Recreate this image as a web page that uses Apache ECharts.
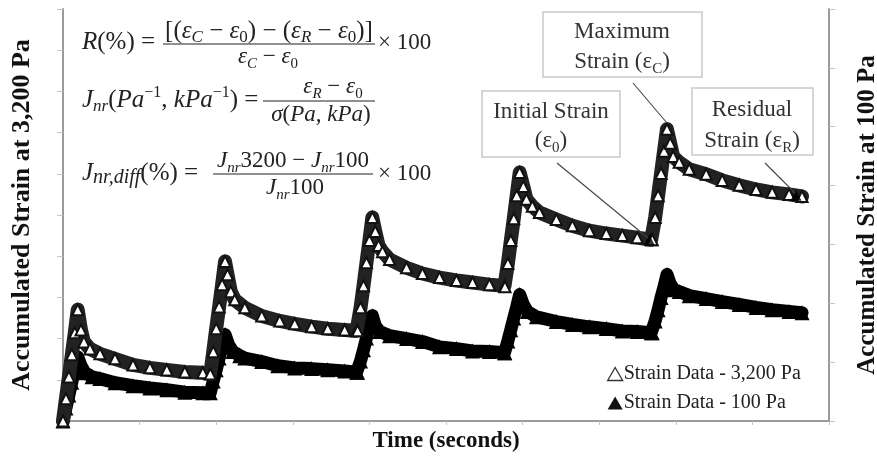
<!DOCTYPE html>
<html>
<head>
<meta charset="utf-8">
<script src="https://cdn.jsdelivr.net/npm/echarts@6/dist/echarts.min.js"></script>
<style>
html,body{margin:0;padding:0;background:#fff;}
#chart{width:877px;height:460px;}
</style>
</head>
<body>
<div id="chart"></div>
<script>
// ---- Data (time in s; strain in arbitrary axis units) ----
const seriesNames = ['Strain Data - 3,200 Pa', 'Strain Data - 100 Pa'];

const strain3200 = [
  [0,0],[0.2,0.54],[0.4,1.07],[0.6,1.61],[0.8,2.14],[1.0,2.70],[1.22,2.21],[1.42,1.92],[1.83,1.75],[2.51,1.63],[3.53,1.51],[4.75,1.36],[5.9,1.29],[7.05,1.24],[8.27,1.19],[9.49,1.17],
  [10,1.14],[10.2,1.68],[10.4,2.24],[10.6,2.77],[10.8,3.31],[11.0,3.87],[11.17,3.55],[11.39,3.14],[11.66,2.94],[12.34,2.75],[13.49,2.55],[14.71,2.43],[15.73,2.36],[16.88,2.29],[17.97,2.24],[19.12,2.21],[19.93,2.19],
  [20,2.19],[20.2,2.75],[20.4,3.28],[20.6,3.84],[20.8,4.38],[21.0,4.94],[21.2,4.60],[21.42,4.26],[21.69,4.11],[22.17,3.92],[23.32,3.72],[24.4,3.58],[25.56,3.48],[26.71,3.41],[27.8,3.36],[28.95,3.31],[29.97,3.28],
  [30,3.26],[30.2,3.82],[30.4,4.38],[30.6,4.91],[30.8,5.47],[31.0,6.03],[31.25,5.69],[31.46,5.38],[31.86,5.21],[32.34,5.06],[33.49,4.89],[34.58,4.74],[35.73,4.62],[36.88,4.55],[37.97,4.50],[38.98,4.45],[39.93,4.40],
  [40,4.40],[40.2,4.94],[40.4,5.47],[40.6,6.01],[40.8,6.55],[41.0,7.08],[41.22,6.74],[41.42,6.42],[41.83,6.28],[42.51,6.11],[43.66,5.99],[44.75,5.84],[45.9,5.72],[47.05,5.62],[48.14,5.55],[49.29,5.50],[50.17,5.45]
];

const strain100 = [
  [0,0],[0.2,0.22],[0.4,0.44],[0.6,0.66],[0.8,0.89],[1.0,1.09],[1.22,0.94],[1.49,0.82],[1.97,0.75],[2.5,0.72],[3.53,0.65],[4.75,0.60],[5.9,0.56],[7.05,0.53],[8.27,0.49],[9.49,0.48],
  [10,0.48],[10.2,0.68],[10.4,0.87],[10.6,1.07],[10.8,1.26],[11.0,1.47],[11.25,1.29],[11.53,1.18],[12.0,1.11],[12.34,1.07],[13.49,1.01],[14.58,0.94],[15.73,0.90],[16.88,0.89],[17.97,0.87],[19.12,0.85],[19.93,0.83],
  [20,0.83],[20.2,1.02],[20.4,1.21],[20.6,1.41],[20.8,1.60],[21.0,1.79],[21.2,1.62],[21.5,1.52],[22.17,1.45],[23.32,1.40],[24.4,1.35],[25.56,1.26],[26.71,1.23],[27.8,1.19],[28.95,1.18],[29.97,1.16],
  [30,1.16],[30.2,1.36],[30.4,1.55],[30.6,1.75],[30.8,1.94],[31.0,2.15],[31.25,1.98],[31.53,1.86],[32.14,1.77],[33.49,1.69],[34.58,1.64],[35.73,1.60],[36.88,1.57],[37.97,1.53],[38.98,1.52],[39.93,1.50],
  [40,1.50],[40.2,1.70],[40.4,1.89],[40.6,2.10],[40.8,2.28],[41.0,2.49],[41.22,2.33],[41.49,2.23],[41.83,2.20],[42.51,2.13],[43.66,2.08],[44.75,2.03],[45.9,1.98],[47.05,1.93],[48.14,1.89],[49.29,1.86],[50.17,1.84]
];

// highlighted points (initial strain, residual strain) on the 3,200 Pa curve
const keyPoints = [[39.8,4.40],[49.76,5.48]];

const axisTitles = {
  x: 'Time (seconds)',
  yLeft: 'Accumulated Strain at 3,200 Pa',
  yRight: 'Accumulated Strain at 100 Pa'
};

// ---- Chart ----
const F = 'Liberation Serif, Times New Roman, serif';
const chart = echarts.init(document.getElementById('chart'), null, {renderer: 'canvas'});

const axisLineStyle = {lineStyle: {color: '#9a9a9a', width: 2}};
const tickStyle = {show: true, inside: false, length: 6, lineStyle: {color: '#c4c4c4', width: 1}};

const C = '#222';
const mrich = {
  i: {fontFamily: F, fontStyle: 'italic', fontSize: 23, lineHeight: 30, fill: C},
  n: {fontFamily: F, fontSize: 23, lineHeight: 30, fill: C},
  I: {fontFamily: F, fontStyle: 'italic', fontSize: 25, lineHeight: 30, fill: C},
  N: {fontFamily: F, fontSize: 25, lineHeight: 30, fill: C},
  sb: {fontFamily: F, fontStyle: 'italic', fontSize: 15, lineHeight: 16, verticalAlign: 'bottom', fill: C},
  SB: {fontFamily: F, fontStyle: 'italic', fontSize: 17, lineHeight: 16, verticalAlign: 'bottom', fill: C},
  SD: {fontFamily: F, fontStyle: 'italic', fontSize: 20, lineHeight: 16, verticalAlign: 'bottom', fill: C},
  sbn: {fontFamily: F, fontSize: 15, lineHeight: 16, verticalAlign: 'bottom', fill: C},
  SBN: {fontFamily: F, fontSize: 17, lineHeight: 16, verticalAlign: 'bottom', fill: C},
  sp: {fontFamily: F, fontSize: 16, lineHeight: 16, verticalAlign: 'top', fill: C}
};
const arich = {
  t: {fontFamily: F, fontSize: 23, lineHeight: 30, fill: '#333'},
  s: {fontFamily: F, fontSize: 15, lineHeight: 16, verticalAlign: 'bottom', fill: '#333'}
};

function mtext(x, y, text, align) {
  return {type: 'text', x: x, y: y, z: 10, style: {text: text, rich: mrich, align: align || 'left', verticalAlign: 'middle'}};
}
function fline(x1, x2, y) {
  return {type: 'line', z: 10, shape: {x1: x1, y1: y, x2: x2, y2: y}, style: {stroke: '#222', lineWidth: 1.2}};
}
function box(x, y, w, h) {
  return {type: 'rect', z: 10, shape: {x: x, y: y, width: w, height: h}, style: {fill: '#fff', stroke: '#c9c9c9', lineWidth: 1.5}};
}
function atext(x, y, text) {
  return {type: 'text', x: x, y: y, z: 11, style: {text: text, rich: arich, align: 'center', verticalAlign: 'middle'}};
}
function leader(x1, y1, x2, y2) {
  return {type: 'line', z: 11, shape: {x1: x1, y1: y1, x2: x2, y2: y2}, style: {stroke: '#444', lineWidth: 1.1}};
}

const graphics = [
  // formula 1
  mtext(82, 42, '{I|R}{N|(%) =}'),
  mtext(269, 31, '{N|[(}{I|ε}{SB|C}{N| − }{I|ε}{SBN|0}{N|) − (}{I|ε}{SB|R}{N| − }{I|ε}{SBN|0}{N|)]}', 'center'),
  fline(163, 375, 44),
  mtext(268, 57, '{i|ε}{sb|C}{n| − }{i|ε}{sbn|0}', 'center'),
  mtext(378, 43, '{n|× 100}'),
  // formula 2
  mtext(82, 100, '{I|J}{SB|nr}{N|(}{I|Pa}{sp|−1}{N|, }{I|kPa}{sp|−1}{N|) =}'),
  mtext(333, 87, '{i|ε}{sb|R}{n| − }{i|ε}{sbn|0}', 'center'),
  fline(263, 375, 101),
  mtext(321, 115, '{i|σ}{n|(}{i|Pa}{n|, }{i|kPa}{n|)}', 'center'),
  // formula 3
  mtext(82, 173, '{I|J}{SD|nr,diff}{N|(%) =}'),
  mtext(293, 161, '{i|J}{sb|nr}{n|3200 − }{i|J}{sb|nr}{n|100}', 'center'),
  fline(213, 373, 174),
  mtext(295, 188, '{i|J}{sb|nr}{n|100}', 'center'),
  mtext(378, 174, '{n|× 100}'),
  // annotation boxes
  box(543, 12, 159, 65),
  atext(622, 32, '{t|Maximum}'),
  atext(622, 62, '{t|Strain (ε}{s|C}{t|)}'),
  box(482, 91, 138, 66),
  atext(551, 112, '{t|Initial Strain}'),
  atext(551, 141, '{t|(ε}{s|0}{t|)}'),
  box(692, 88, 121, 67),
  atext(752, 110, '{t|Residual}'),
  atext(752, 141, '{t|Strain (ε}{s|R}{t|)}'),
  leader(633, 83, 667, 123),
  leader(557, 163, 648, 238),
  leader(765, 163, 795, 193)
];

const option = {
  backgroundColor: '#fff',
  animation: false,
  grid: {left: 63, right: 48, top: 9, bottom: 39, containLabel: false, outerBoundsMode: 'none'},
  legend: {
    orient: 'vertical',
    left: 607, top: 364,
    itemWidth: 15, itemHeight: 13, itemGap: 9,
    padding: 0,
    textStyle: {fontFamily: F, fontSize: 20, color: '#222', padding: [0, 0, 0, -4]},
    data: [
      {name: seriesNames[0], icon: 'triangle', itemStyle: {color: '#fff', borderColor: '#333', borderWidth: 1.3}},
      {name: seriesNames[1], icon: 'triangle', itemStyle: {color: '#111', borderWidth: 0}}
    ]
  },
  xAxis: {
    type: 'value', min: 0, max: 52, interval: 5.2,
    axisLine: axisLineStyle, axisTick: {show: true, length: 4, lineStyle: {color: '#c4c4c4'}},
    axisLabel: {show: false}, splitLine: {show: false},
    name: axisTitles.x, nameLocation: 'middle', nameGap: 9,
    nameTextStyle: {fontFamily: F, fontWeight: 'bold', fontSize: 23, color: '#111'}
  },
  yAxis: [
    {
      type: 'value', min: 0, max: 10, interval: 1, position: 'left',
      axisLine: Object.assign({show: true}, axisLineStyle), axisTick: tickStyle,
      axisLabel: {show: false}, splitLine: {show: false},
      name: axisTitles.yLeft, nameLocation: 'middle', nameGap: 28, nameRotate: 90,
      nameTextStyle: {fontFamily: F, fontWeight: 'bold', fontSize: 26, color: '#111'}
    },
    {
      type: 'value', min: 0, max: 7, interval: 1, position: 'right',
      axisLine: Object.assign({show: true}, axisLineStyle), axisTick: tickStyle,
      axisLabel: {show: false}, splitLine: {show: false},
      name: axisTitles.yRight, nameLocation: 'middle', nameGap: 26, nameRotate: 90,
      nameTextStyle: {fontFamily: F, fontWeight: 'bold', fontSize: 25, color: '#111'}
    }
  ],
  series: [
    {
      name: seriesNames[0], type: 'line', yAxisIndex: 0, data: strain3200,
      clip: false, symbol: 'emptyTriangle', symbolSize: 11, showAllSymbol: true,
      lineStyle: {color: '#222', width: 14, cap: 'round', join: 'round'},
      itemStyle: {color: '#111', borderWidth: 1},
      z: 3
    },
    {
      name: seriesNames[1], type: 'line', yAxisIndex: 1, data: strain100,
      clip: false, symbol: 'triangle', symbolSize: 15, showAllSymbol: true,
      lineStyle: {color: '#000', width: 13, cap: 'round', join: 'round'},
      itemStyle: {color: '#000'},
      z: 2
    },
    {
      name: 'key points', type: 'scatter', yAxisIndex: 0, data: keyPoints,
      symbol: 'triangle', symbolSize: 11, itemStyle: {color: '#000'}, z: 4
    }
  ],
  graphic: graphics
};
chart.setOption(option);
</script>
</body>
</html>
